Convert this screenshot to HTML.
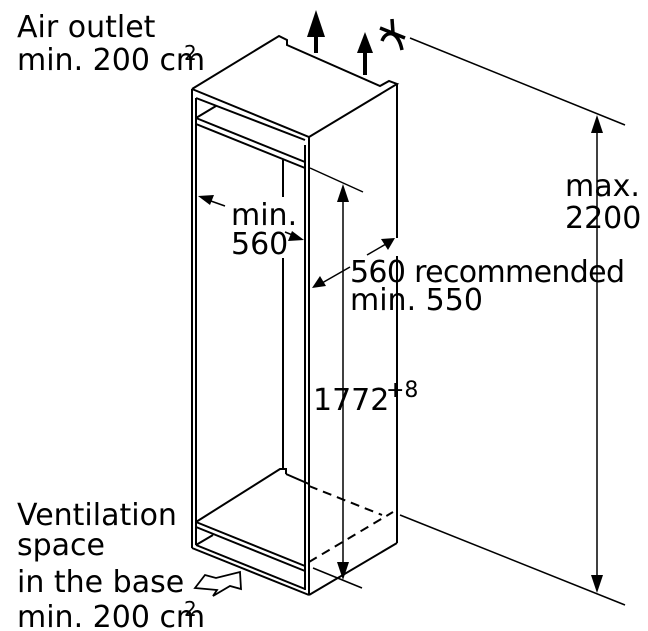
<!DOCTYPE html>
<html><head><meta charset="utf-8"><style>
html,body{margin:0;padding:0;background:#fff;}
svg{display:block;}
text{font-family:"DejaVu Sans","Liberation Sans",sans-serif;font-size:30px;fill:#000;}
</style></head><body>
<svg width="648" height="631" viewBox="0 0 648 631" xmlns="http://www.w3.org/2000/svg">
<g fill="none" stroke="#000" stroke-width="2" stroke-linejoin="miter">
<polyline points="192,89 279,36 287,40 287,45 380,86 389,81 397,84 309,137 192,89"/>
<line x1="192" y1="89" x2="192" y2="548"/>
<line x1="196" y1="98" x2="196" y2="545"/>
<line x1="309" y1="137" x2="309" y2="595"/>
<line x1="305" y1="145" x2="305" y2="590"/>
<line x1="397" y1="84" x2="397" y2="238"/>
<line x1="397" y1="256" x2="397" y2="543"/>
<line x1="196" y1="98" x2="305" y2="140"/>
<line x1="196" y1="118" x2="305" y2="162"/>
<line x1="196" y1="124" x2="305" y2="168"/>
<line x1="196" y1="118" x2="216" y2="106"/>
<line x1="283" y1="160" x2="283" y2="197"/>
<line x1="283" y1="258" x2="283" y2="469"/>
<polyline points="196,522 280,469 286,469 286,474"/>
<line x1="286" y1="474" x2="309" y2="484"/>
<line x1="196" y1="522" x2="305" y2="566"/>
<line x1="196" y1="527" x2="305" y2="571"/>
<line x1="196" y1="545" x2="305" y2="589"/>
<line x1="196" y1="545" x2="213" y2="535"/>
<line x1="192" y1="548" x2="309" y2="595"/>
<line x1="309" y1="595" x2="397" y2="543"/>
<line x1="305" y1="571" x2="305" y2="589"/>
<line x1="309" y1="486" x2="382" y2="515" stroke-dasharray="9,6"/>
<line x1="309" y1="562" x2="393" y2="512" stroke-dasharray="9,6"/>
<line x1="410" y1="38" x2="625" y2="125" stroke-width="1.5"/>
<line x1="400" y1="515" x2="625" y2="605" stroke-width="1.5"/>
<line x1="310" y1="168" x2="363" y2="192" stroke-width="1.5"/>
<line x1="313" y1="568" x2="362" y2="588" stroke-width="1.5"/>
<line x1="343" y1="198" x2="343" y2="566" stroke-width="1.5"/>
<line x1="597" y1="128" x2="597" y2="580" stroke-width="1.5"/>
<line x1="208" y1="200" x2="225" y2="206" stroke-width="1.5"/>
<line x1="285" y1="232" x2="295" y2="236" stroke-width="1.5"/>
<line x1="322" y1="283" x2="350" y2="267" stroke-width="1.5"/>
<line x1="367" y1="255" x2="386" y2="244" stroke-width="1.5"/>
<line x1="316" y1="53" x2="316" y2="34" stroke-width="4"/>
<line x1="365" y1="75" x2="365" y2="50" stroke-width="4"/>
<path d="M382,41 C386,30 398,30 402,50" stroke-width="3.5"/>
<line x1="380" y1="28" x2="405" y2="38" stroke-width="3.5"/>
<line x1="392" y1="19" x2="393" y2="33" stroke-width="3.5"/>
<polygon points="195,588 205,575 216,578 240,572 241,589 230,586 213,596 217,590" stroke-width="1.8"/>
</g>
<g fill="#000">
<polygon points="316,10 307,37 325,37"/>
<polygon points="365,32 357,53 373,53"/>
<polygon points="343,184 337,202 349,202"/>
<polygon points="343,580 337,562 349,562"/>
<polygon points="597,115 591,133 603,133"/>
<polygon points="597,593 591,575 603,575"/>
<polygon points="198,196 214,195 210,205"/>
<polygon points="304,240 288,241 292,231"/>
<polygon points="312,288 320,276 326,286"/>
<polygon points="395,238 381,239 388,250"/>
</g>
<text x="17" y="37">Air outlet</text>
<text x="17" y="70">min. 200 cm</text>
<text x="184" y="60" style="font-size:20px">2</text>
<text x="231" y="225">min.</text>
<text x="231" y="254">560</text>
<text x="350" y="282" textLength="275">560 recommended</text>
<text x="350" y="310">min. 550</text>
<text x="565" y="196">max.</text>
<text x="565" y="228">2200</text>
<text x="313" y="410">1772</text>
<text x="386" y="397" style="font-size:22px">+8</text>
<text x="17" y="525">Ventilation</text>
<text x="17" y="555">space</text>
<text x="17" y="592">in the base</text>
<text x="17" y="627">min. 200 cm</text>
<text x="184" y="616" style="font-size:20px">2</text>
</svg>
</body></html>
